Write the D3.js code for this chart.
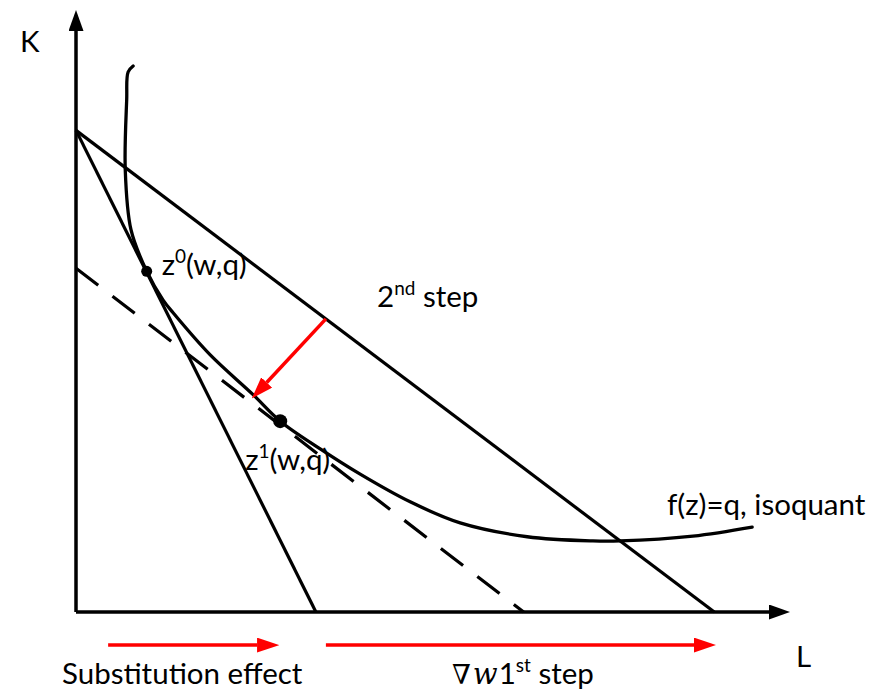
<!DOCTYPE html>
<html>
<head>
<meta charset="utf-8">
<script src="https://cdn.jsdelivr.net/npm/d3@7"></script>
<style>
  body { margin: 0; background: #fff; }
  text { font-family: Lato, "Open Sans", sans-serif; fill: #000; }
</style>
</head>
<body>
<div class="chart"></div>
<script>
// isoquant f(z)=q (L, K)
var isoL = [8.0, 7.3, 7.1, 6.9, 7.7, 9.9, 12.2, 13.6, 18.8, 24.8, 28.6, 34.2, 39.8, 46.8, 53.8, 63.2, 72.4, 76.2, 86.4, 94.7];
var isoK = [90.7, 89.7, 85.1, 73.4, 63.5, 56.6, 51.8, 49.7, 42.7, 36.1, 31.7, 27.1, 22.9, 18.3, 14.8, 12.5, 11.8, 11.8, 12.6, 14.1];

// isocost lines: K intercept, L intercept
var lineNames = ["new", "old", "compensated"];
var lineK0 = [80, 80, 57.1];
var lineL0 = [33.6, 89.4, 62.7];

// optimal bundles
var bundleNames = ["z0", "z1"];
var bundleL = [9.9, 28.6];
var bundleK = [56.6, 31.7];

// 2nd step shift arrow
var shiftL = [35.0, 24.8];
var shiftK = [48.7, 35.7];

// effect arrows under the L axis
var effectStart = [4.5, 35.0];
var effectEnd = [28.3, 89.5];
var effectK = -5.5;

(function() {
  var width = 880,
    height = 690;

  var svg = d3.select(".chart").append("svg")
    .attr("width", width)
    .attr("height", height);

  var x = d3.scaleLinear().domain([0, 100]).range([76, 790]);
  var y = d3.scaleLinear().domain([0, 100]).range([612, 10]);

  var defs = svg.append("defs");
  function marker(id, color, len, wid) {
    defs.append("marker")
      .attr("id", id)
      .attr("viewBox", "0 0 " + len + " " + wid)
      .attr("refX", 0)
      .attr("refY", wid / 2)
      .attr("markerWidth", len)
      .attr("markerHeight", wid)
      .attr("markerUnits", "userSpaceOnUse")
      .attr("orient", "auto")
      .append("path")
      .attr("d", "M0,0L" + len + "," + (wid / 2) + "L0," + wid + "Z")
      .attr("fill", color);
  }
  marker("headBlack", "#000", 21, 15);
  marker("headRed", "#f00", 22, 15);

  // line that stops at the arrowhead base
  function arrow(x1, y1, x2, y2, len) {
    var dx = x2 - x1, dy = y2 - y1, d = Math.sqrt(dx * dx + dy * dy);
    return [x1, y1, x2 - dx / d * len, y2 - dy / d * len];
  }

  // axes
  var axes = [arrow(x(0), y(0), x(0), y(100), 21), arrow(x(0), y(0), x(100), y(0), 21)];
  svg.append("g").selectAll("line")
    .data(axes)
    .enter().append("line")
      .attr("x1", function(d) { return d[0]; })
      .attr("y1", function(d) { return d[1]; })
      .attr("x2", function(d) { return d[2]; })
      .attr("y2", function(d) { return d[3]; })
      .attr("stroke", "#000")
      .attr("stroke-width", 3.5)
      .attr("marker-end", "url(#headBlack)");

  // isocost lines
  svg.append("g").selectAll("line")
    .data(lineNames)
    .enter().append("line")
      .attr("x1", x(0))
      .attr("y1", function(d, i) { return y(lineK0[i]); })
      .attr("x2", function(d, i) { return x(lineL0[i]); })
      .attr("y2", y(0))
      .attr("stroke", "#000")
      .attr("stroke-width", 3.2)
      .attr("stroke-dasharray", function(d) { return d == "compensated" ? "28,18" : null; });

  // isoquant
  var line = d3.line()
    .x(function(d) { return x(d[0]); })
    .y(function(d) { return y(d[1]); })
    .curve(d3.curveCatmullRom.alpha(0.5));
  svg.append("path")
    .attr("d", line(d3.zip(isoL, isoK)))
    .attr("fill", "none")
    .attr("stroke", "#000")
    .attr("stroke-width", 3.3)
    .attr("stroke-linecap", "round");

  // bundles
  svg.append("g").selectAll("circle")
    .data(bundleNames)
    .enter().append("circle")
      .attr("cx", function(d, i) { return x(bundleL[i]); })
      .attr("cy", function(d, i) { return y(bundleK[i]); })
      .attr("r", function(d) { return d == "z1" ? 7 : 5.5; })
      .attr("fill", "#000");

  // red arrows
  var reds = [arrow(x(shiftL[0]), y(shiftK[0]), x(shiftL[1]), y(shiftK[1]), 20)];
  effectStart.forEach(function(s, i) {
    reds.push(arrow(x(s), y(effectK), x(effectEnd[i]), y(effectK), 21));
  });
  svg.append("g").selectAll("line")
    .data(reds)
    .enter().append("line")
      .attr("x1", function(d) { return d[0]; })
      .attr("y1", function(d) { return d[1]; })
      .attr("x2", function(d) { return d[2]; })
      .attr("y2", function(d) { return d[3]; })
      .attr("stroke", "#f00")
      .attr("stroke-width", 3.5)
      .attr("marker-end", "url(#headRed)");

  // labels
  var fs = 29.5;
  svg.append("text").attr("x", 20).attr("y", 52).style("font-size", fs + "px").text("K");
  svg.append("text").attr("x", 796).attr("y", 667).style("font-size", fs + "px").text("L");
  svg.append("text").attr("x", 62).attr("y", 684).style("font-size", fs + "px").text("Substitution effect");
  svg.append("text").attr("x", 667).attr("y", 515).style("font-size", fs + "px").text("f(z)=q, isoquant");

  function supLabel(px, py, base, sup, rest) {
    var t = svg.append("text").attr("x", px).attr("y", py).style("font-size", fs + "px");
    t.append("tspan").text(base);
    t.append("tspan").attr("dy", -12).style("font-size", "19px").text(sup);
    t.append("tspan").attr("dy", 12).text(rest);
    return t;
  }
  supLabel(x(bundleL[0]) + 15, y(bundleK[0]) + 4, "z", "0", "(w,q)");
  supLabel(x(bundleL[1]) - 35, y(bundleK[1]) + 49, "z", "1", "(w,q)");
  supLabel(377, 307, "2", "nd", " step");

  var t = svg.append("text").attr("x", 452).attr("y", 684).style("font-size", fs + "px");
  t.append("tspan").style("font-family", "'DejaVu Serif', serif").style("font-size", "27px").text("\u2207");
  t.append("tspan").attr("dx", 2).style("font-family", "'DejaVu Serif', serif").style("font-style", "italic").style("font-size", "29px").text("w");
  t.append("tspan").attr("dx", 1).text("1");
  t.append("tspan").attr("dy", -12).style("font-size", "19px").text("st");
  t.append("tspan").attr("dy", 12).text(" step");
})();
</script>
</body>
</html>
